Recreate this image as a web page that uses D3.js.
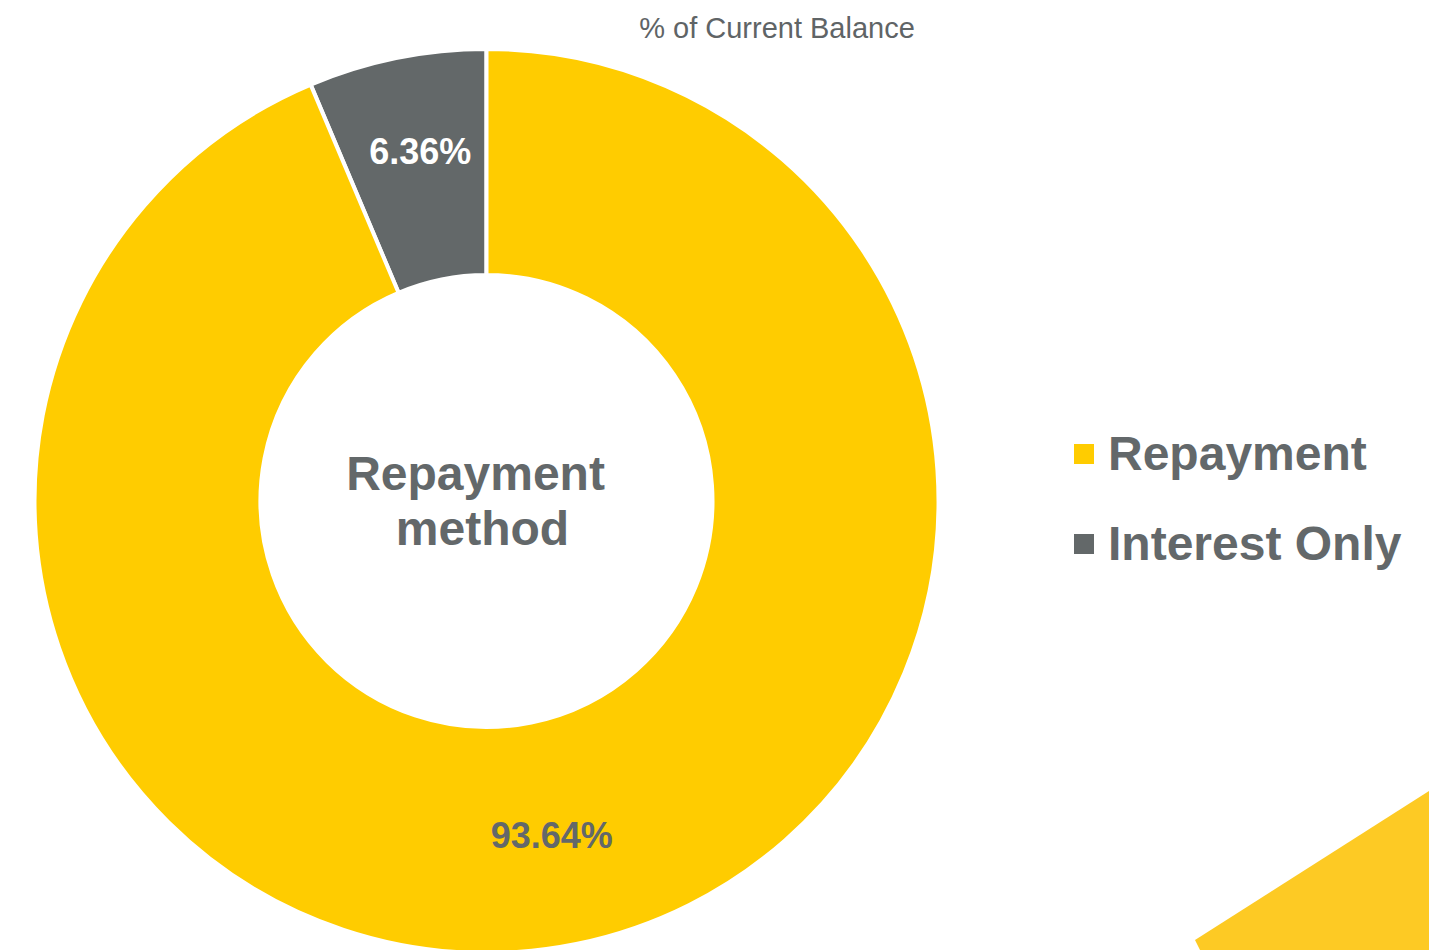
<!DOCTYPE html>
<html>
<head>
<meta charset="utf-8">
<script src="https://cdn.jsdelivr.net/npm/d3@7"></script>
<style>
  html, body { margin: 0; padding: 0; background: #ffffff; }
  svg { display: block; font-family: "Liberation Sans", Arial, sans-serif; }
</style>
</head>
<body>
<svg id="chart" width="1429" height="950"></svg>
<script>
// Repayment method split, % of current balance
const categories = ["Interest Only", "Repayment"];
const shares = [6.36, 93.64];
const sliceColors = ["#636869", "#FFCC00"];
const labelColors = ["#ffffff", "#63686a"];
const legendOrder = ["Repayment", "Interest Only"];
const titleText = "% of Current Balance";
const centerLines = ["Repayment", "method"];

const svg = d3.select("#chart");
const cx = 486.5, cy = 501;
const outerR = 452, innerR = 226;

// decorative corner wedge
svg.append("path")
  .attr("d", "M1195,940 L1429,791 L1429,950 L1200,950 Z")
  .attr("fill", "#FDCA24");

const color = d3.scaleOrdinal().domain(categories).range(sliceColors);
const textColor = d3.scaleOrdinal().domain(categories).range(labelColors);

const data = categories.map((c, i) => ({ cat: c, value: shares[i] }));

// slices run clockwise from 12 o'clock; interest-only sits just left of the top
const pie = d3.pie()
  .value(d => d.value)
  .sort(null)
  .startAngle(-2 * Math.PI * shares[0] / 100)
  .endAngle(2 * Math.PI - 2 * Math.PI * shares[0] / 100);

const arc = d3.arc().innerRadius(innerR).outerRadius(outerR);

const g = svg.append("g").attr("transform", `translate(${cx},${cy})`);

const arcs = pie(data);

g.selectAll("path.slice")
  .data(arcs)
  .join("path")
  .attr("class", "slice")
  .attr("d", arc)
  .attr("fill", d => color(d.data.cat))
  .attr("stroke", "#ffffff")
  .attr("stroke-width", 4)
  .attr("stroke-linejoin", "miter");

g.selectAll("text.value")
  .data(arcs)
  .join("text")
  .attr("class", "value")
  .attr("transform", d => {
    const [x, y] = arc.centroid(d);
    const dx = d.index === 0 ? 1 : -2;
    const dy = d.index === 0 ? -17 : 2;
    return `translate(${x + dx},${y + dy})`;
  })
  .attr("text-anchor", "middle")
  .attr("dominant-baseline", "central")
  .attr("font-size", 36)
  .attr("font-weight", "bold")
  .attr("fill", d => textColor(d.data.cat))
  .text(d => d.data.value.toFixed(2) + "%");

// centre caption
const center = g.append("text")
  .attr("text-anchor", "middle")
  .attr("font-size", 48)
  .attr("font-weight", "bold")
  .attr("fill", "#63686a");
center.selectAll("tspan")
  .data(centerLines)
  .join("tspan")
  .attr("x", (d, i) => i === 0 ? -11 : -4)
  .attr("y", (d, i) => -11 + i * 55)
  .text(d => d);

// title
svg.append("text")
  .attr("x", 777)
  .attr("y", 38)
  .attr("text-anchor", "middle")
  .attr("font-size", 29)
  .attr("fill", "#5f6466")
  .text(titleText);

// legend
const legend = svg.append("g").attr("transform", "translate(1073,430)");
const items = legend.selectAll("g")
  .data(legendOrder)
  .join("g")
  .attr("transform", (d, i) => `translate(0,${i * 90})`);
items.append("rect")
  .attr("x", 1)
  .attr("y", 14)
  .attr("width", 20)
  .attr("height", 20)
  .attr("fill", d => color(d));
items.append("text")
  .attr("x", 35)
  .attr("y", 40)
  .attr("font-size", 48)
  .attr("font-weight", "bold")
  .attr("fill", "#63686a")
  .text(d => d);
</script>
</body>
</html>
